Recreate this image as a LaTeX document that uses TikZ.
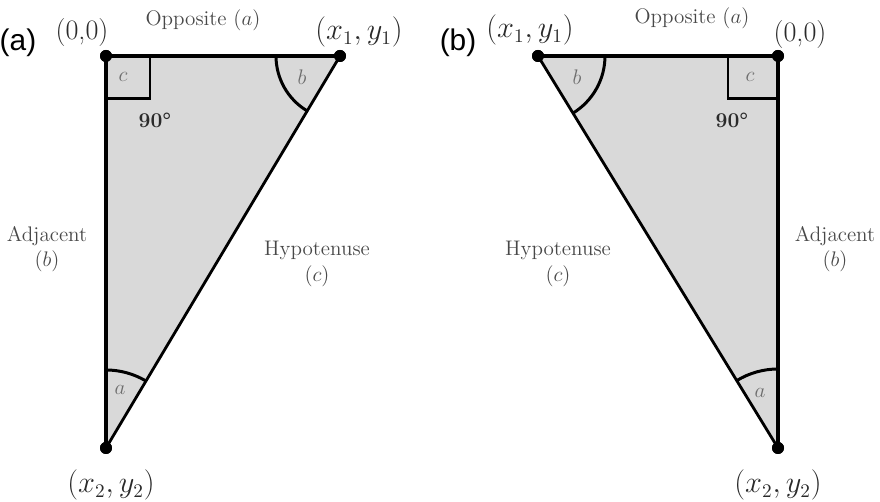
\documentclass[tikz,border=0pt]{standalone}
\usepackage{fontspec}
\newfontfamily\panelfont{Liberation Sans}
\usepackage{tikz}
\usetikzlibrary{calc}
\definecolor{trifill}{HTML}{D9D9D9}
\definecolor{trilabel}{HTML}{484848}
\definecolor{tricoord}{HTML}{2A2A2A}

\begin{document}
\begin{tikzpicture}[x=0.02cm, y=0.02cm,
    side/.style={line width=2.2pt, black},
    hypo/.style={line width=1.6pt, black},
    corner/.style={line width=1.7pt, black},
    angarc/.style={line width=1.7pt, black},
    vertex/.style={circle, fill=black, inner sep=0pt, minimum size=0.24cm},
    coordlbl/.style={font=\fontsize{16}{18}\selectfont, text=tricoord},
    sidelbl/.style={font=\fontsize{12}{14.4}\selectfont, text=trilabel, align=center},
    anglbl/.style={font=\fontsize{12}{14}\selectfont, text=trilabel!80},
    rightlbl/.style={font=\bfseries\fontsize{12}{14}\selectfont, text=tricoord},
    panel/.style={font=\panelfont\fontsize{17}{20}\selectfont}
]
    \useasboundingbox (0,0) rectangle (880,502);

    % Panel (a): vertices
    \node[vertex] (o1) at (106,446) {};
    \node[vertex] (p1) at (340,446) {};
    \node[vertex] (r1) at (106,54) {};

    \fill[trifill] (o1.center) -- (p1.center) -- (r1.center) -- cycle;
    \draw[corner] ($(o1.center)+(0,-43)$) -- ++(44,0) -- ++(0,43);
    \draw[angarc] (p1.center) ++(180:64) arc[start angle=180, end angle=239.16, radius=64];
    \draw[angarc] (r1.center) ++(59.16:78) arc[start angle=59.16, end angle=90, radius=78];
    \draw[side] (o1.center) -- (p1.center);
    \draw[side] (o1.center) -- (r1.center);
    \draw[hypo] (p1.center) -- (r1.center);
    \node[vertex] at (o1) {};
    \node[vertex] at (p1) {};
    \node[vertex] at (r1) {};

    % Panel (a): labels
    \node[panel] (tag1) at (18,459) {(a)};
    \node[coordlbl] (o1lbl) at (82,469) {(0,0)};
    \node[sidelbl] (opp1) at (203,482) {Opposite $(a)$};
    \node[coordlbl] (p1lbl) at (359,470) {$(x_1,y_1)$};
    \node[anglbl] (c1) at (123,425) {$c$};
    \node[rightlbl] (deg1) at (155,382) {90°};
    \node[anglbl] (b1) at (302,425) {$b$};
    \node[sidelbl] (adj1) at (47,253) {Adjacent\\$(b)$};
    \node[sidelbl] (hyp1) at (317,238) {Hypotenuse\\$(c)$};
    \node[anglbl] (a1) at (120,112) {$a$};
    \node[coordlbl] (r1lbl) at (111,17) {$(x_2,y_2)$};

    % Panel (b): vertices
    \node[vertex] (q2) at (538,446) {};
    \node[vertex] (o2) at (778,446) {};
    \node[vertex] (r2) at (778,54) {};

    \fill[trifill] (q2.center) -- (o2.center) -- (r2.center) -- cycle;
    \draw[corner] ($(o2.center)+(0,-43)$) -- ++(-50,0) -- ++(0,43);
    \draw[angarc] (q2.center) ++(-58.52:67) arc[start angle=-58.52, end angle=0, radius=67];
    \draw[angarc] (r2.center) ++(90:79) arc[start angle=90, end angle=121.48, radius=79];
    \draw[side] (q2.center) -- (o2.center);
    \draw[side] (o2.center) -- (r2.center);
    \draw[hypo] (q2.center) -- (r2.center);
    \node[vertex] at (q2) {};
    \node[vertex] at (o2) {};
    \node[vertex] at (r2) {};

    % Panel (b): labels
    \node[panel] (tag2) at (458,459) {(b)};
    \node[coordlbl] (q2lbl) at (530,472) {$(x_1,y_1)$};
    \node[sidelbl] (opp2) at (692,484) {Opposite $(a)$};
    \node[coordlbl] (o2lbl) at (800,467) {(0,0)};
    \node[anglbl] (b2) at (577,425) {$b$};
    \node[anglbl] (c2) at (750,425) {$c$};
    \node[rightlbl] (deg2) at (732,382) {90°};
    \node[sidelbl] (hyp2) at (558,238) {Hypotenuse\\$(c)$};
    \node[sidelbl] (adj2) at (835,253) {Adjacent\\$(b)$};
    \node[anglbl] (a2) at (760,109) {$a$};
    \node[coordlbl] (r2lbl) at (778,17) {$(x_2,y_2)$};
\end{tikzpicture}
\end{document}
